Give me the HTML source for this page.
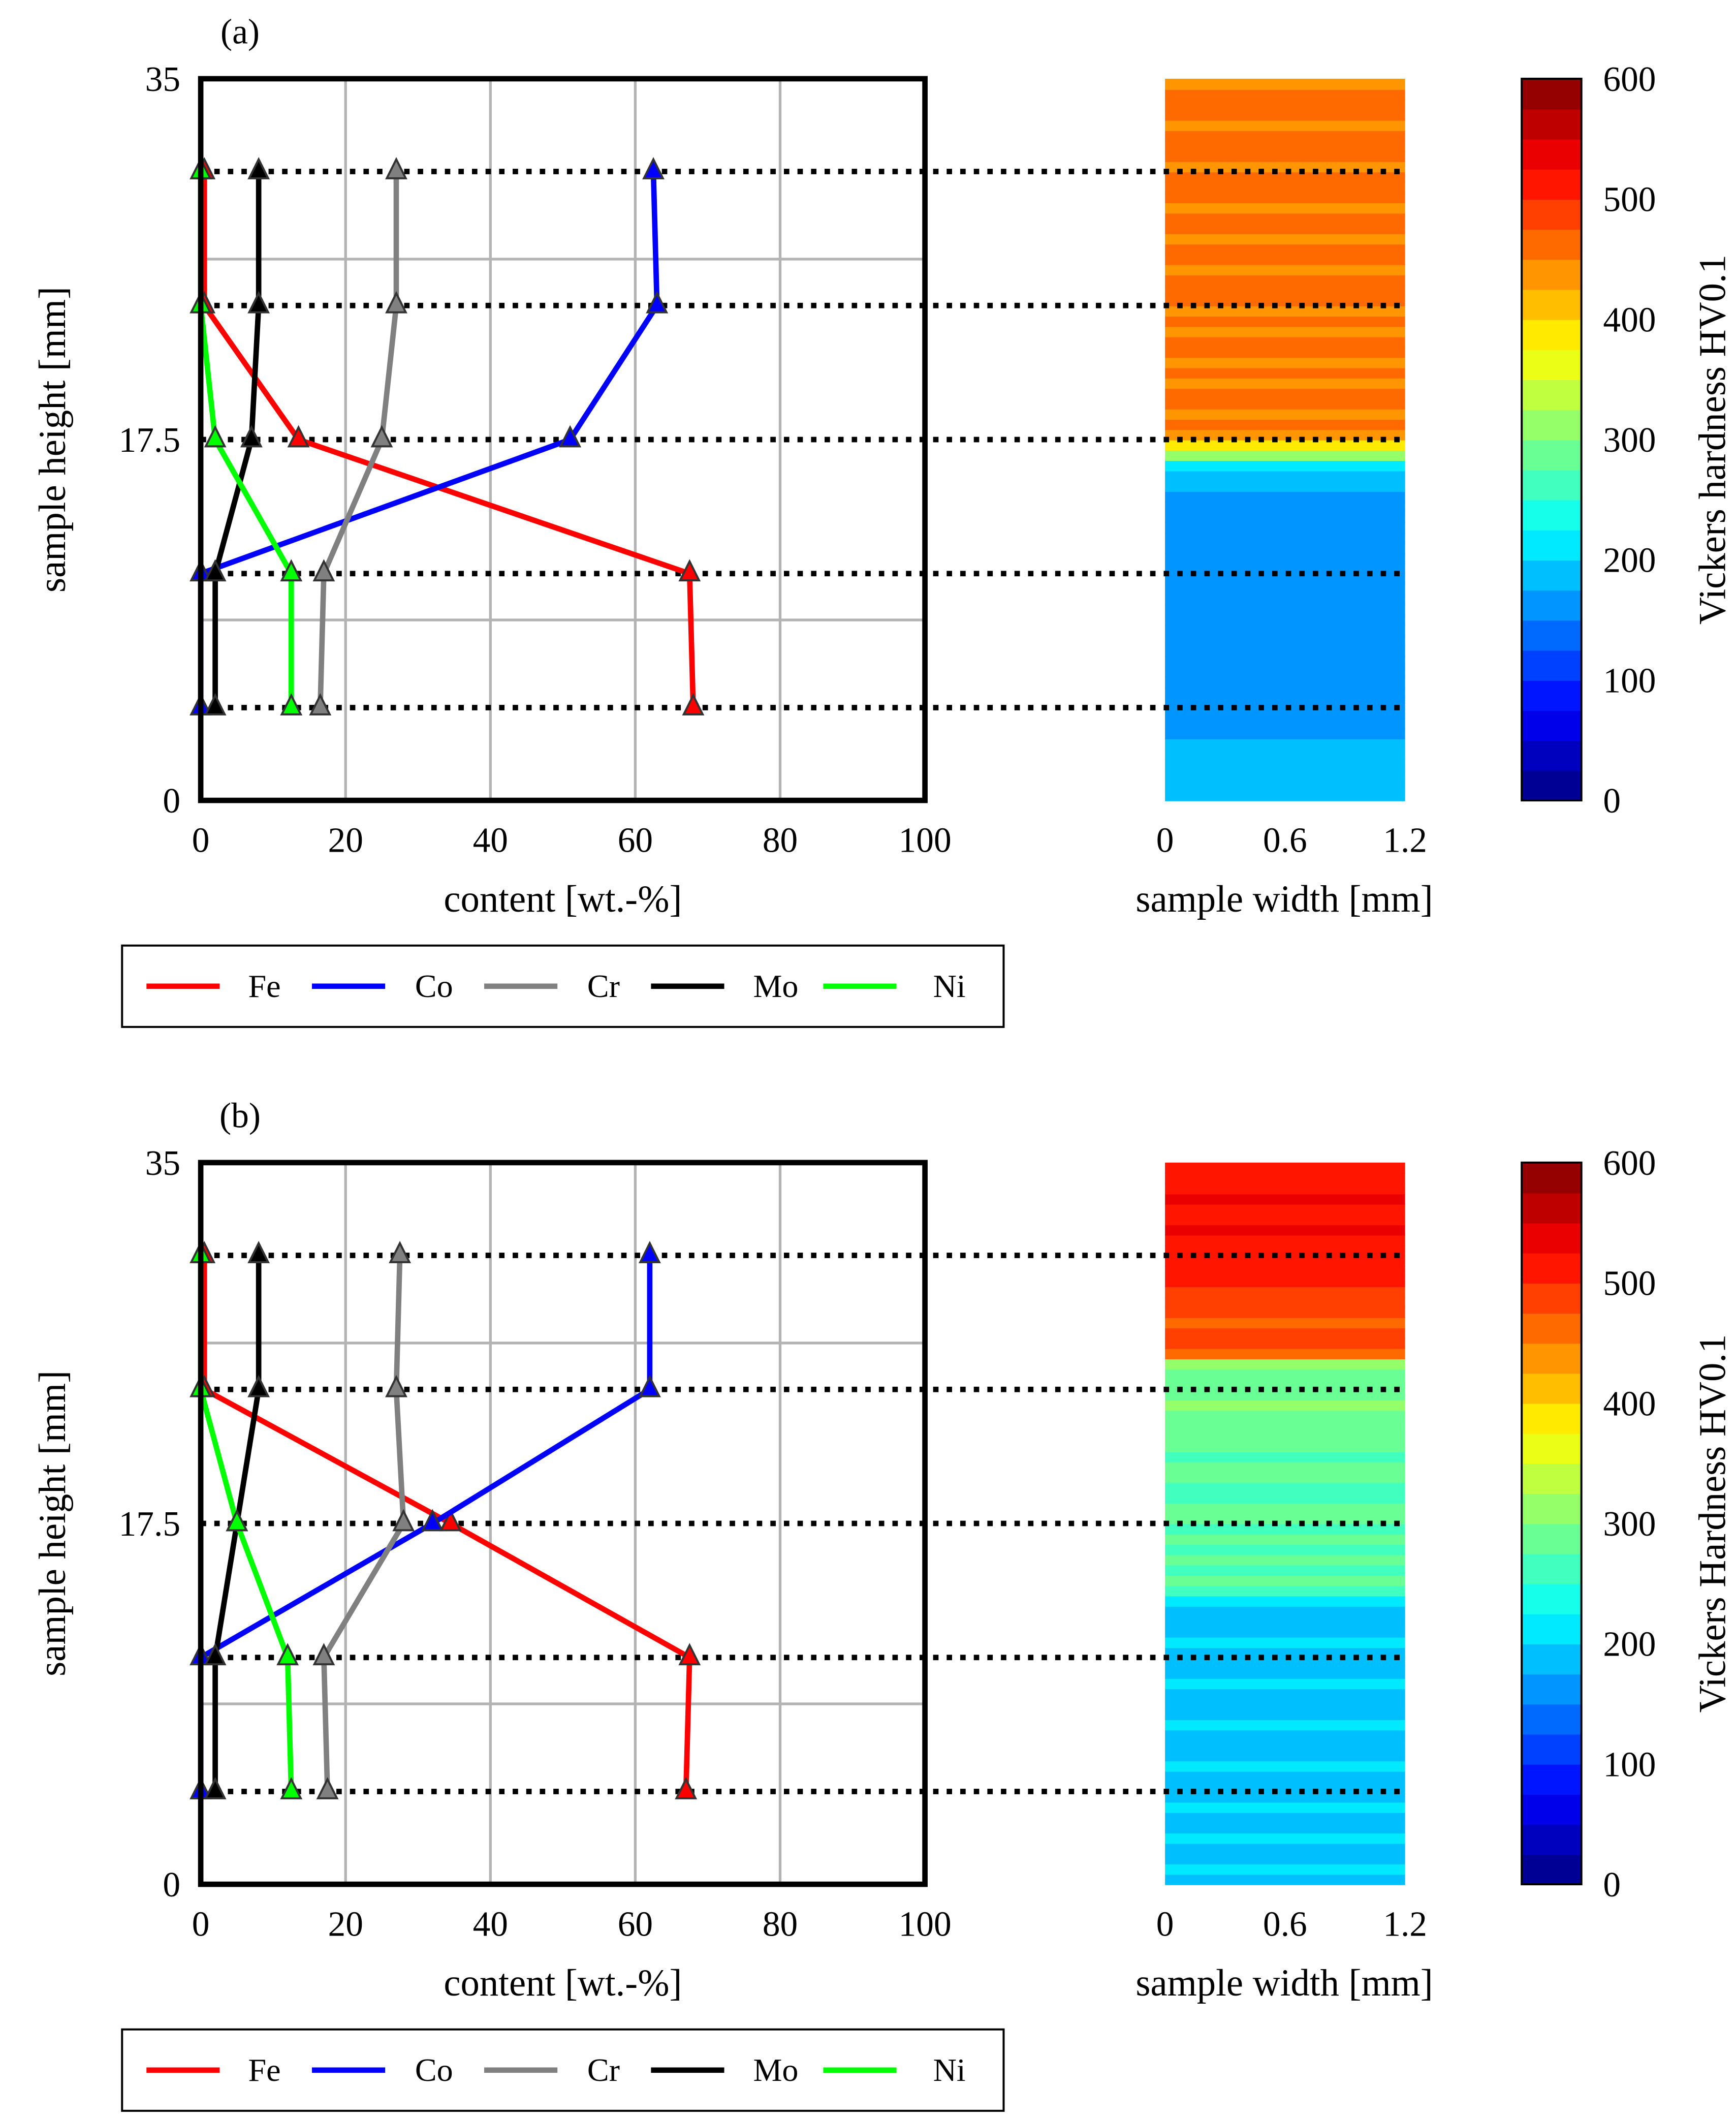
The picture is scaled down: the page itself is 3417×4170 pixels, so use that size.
<!DOCTYPE html>
<html><head><meta charset="utf-8">
<style>
html,body{margin:0;padding:0;background:#fff;}
svg{display:block;}
text{font-family:"Liberation Serif",serif;fill:#000;}
</style></head>
<body>
<svg id="fig" width="3417" height="4170" viewBox="0 0 1280 1562" xmlns="http://www.w3.org/2000/svg"></svg>
<script>
// ---- data ----
const levels = [4.5, 11, 17.5, 24, 30.5];
const seriesNames = ["Fe","Co","Cr","Mo","Ni"];
const seriesColors = ["#ff0000","#0000ff","#808080","#000000","#00ff00"];
const feA = [68, 67.5, 13.5, 0.5, 0.5];
const coA = [0, 0, 51, 63, 62.5];
const crA = [16.5, 17, 25, 27, 27];
const moA = [2, 2, 7, 8, 8];
const niA = [12.5, 12.5, 2, 0, 0];
const feB = [67, 67.5, 34.5, 0.5, 0.5];
const coB = [0, 0, 32, 62, 62];
const crB = [17.5, 17, 28, 27, 27.5];
const moB = [2, 2, 5, 8, 8];
const niB = [12.5, 12, 5, 0, 0];
const xTicks = [0, 20, 40, 60, 80, 100];
const yTicks = [0, 17.5, 35];
const cbTicks = [0, 100, 200, 300, 400, 500, 600];
const wTicks = [0, 0.6, 1.2];
// hardness profile rows, height 0..35 in 0.5 mm steps (bottom to top)
const hardA = [190,185,180,178,180,178,172,170,168,170,165,168,170,165,168,170,166,170,172,168,165,170,168,170,165,168,170,172,168,170,175,180,200,300,380,
  445,455,440,460,450,445,465,440,450,455,445,460,440,455,465,450,445,455,450,440,465,450,445,455,450,465,445,450,455,450,445,450,460,450,440];
const hardB = [195,200,190,195,200,190,195,200,195,190,195,200,195,190,195,200,195,190,195,200,195,190,195,200,195,190,195,200,270,275,268,280,272,275,270,
  280,275,270,272,280,275,270,278,285,290,295,300,295,290,295,300,470,480,475,470,485,480,490,505,515,505,520,510,525,515,510,525,510,520,515];

const svg = document.getElementById('fig');
const NS = "http://www.w3.org/2000/svg";
function mk(tag, attrs, parent){ const e=document.createElementNS(NS,tag); for(const k in attrs) e.setAttribute(k,attrs[k]); (parent||svg).appendChild(e); return e; }
function txt(s,x,y,size,anchor,parent){ const t=mk('text',{x:x,y:y,'font-size':size,'text-anchor':anchor||'middle'},parent); t.textContent=s; return t; }

function jet(v){ // v in 0..1
  const c=x=>Math.max(0,Math.min(1,x));
  const r=c(1.5-Math.abs(4*v-3)), g=c(1.5-Math.abs(4*v-2)), b=c(1.5-Math.abs(4*v-1));
  return `rgb(${Math.round(r*255)},${Math.round(g*255)},${Math.round(b*255)})`;
}
function band(h){ const n=24; const k=Math.min(n-1,Math.floor(h/600*n)); return jet((k+0.5)/n); }

function panel(oy, label, data, hard, cbTitle, tag){
  const g = mk('g',{});  
  const x0=148,x1=682,yTop=58+oy,yBot=590+oy;
  const sx=v=>x0+(x1-x0)*v/100;
  const sy=v=>yBot-(yBot-yTop)*v/35;
  const lab=txt(label,177,32+oy,26,'middle',g);  
  for(const t of [20,40,60,80]){ const l=mk('line',{x1:sx(t),x2:sx(t),y1:yTop,y2:yBot,stroke:'#b3b3b3','stroke-width':2},g);   }
  for(const t of [8.75,26.25]){ const l=mk('line',{x1:x0,x2:x1,y1:sy(t),y2:sy(t),stroke:'#b3b3b3','stroke-width':2},g);   }
  const hx0=859,hx1=1036;
  const hm=mk('g',{},g);  
  for(let i=0;i<hard.length;i++){
    const yb=sy(i*0.5), yt=sy((i+1)*0.5);
    const r=mk('rect',{x:hx0,y:yt,width:hx1-hx0,height:yb-yt+0.6,fill:band(hard[i])},hm);
     
  }
  for(const lv of levels){ const l=mk('line',{x1:x0,x2:hx1,y1:sy(lv),y2:sy(lv),stroke:'#000','stroke-width':4,'stroke-dasharray':'4 6'},g);   }
  data.forEach((vals,si)=>{
    const pts=vals.map((v,i)=>sx(v)+','+sy(levels[i])).join(' ');
    const pl=mk('polyline',{points:pts,fill:'none',stroke:seriesColors[si],'stroke-width':4,'stroke-linejoin':'round'},g);
     
    vals.forEach((v,i)=>{ const cx=sx(v),cy=sy(levels[i]);
      const m=mk('polygon',{points:`${cx},${cy-9} ${cx-7},${cy+5} ${cx+7},${cy+5}`,fill:seriesColors[si],stroke:'#333','stroke-width':1.5},g);
        });
  });
  const fr=mk('rect',{x:x0,y:yTop,width:x1-x0,height:yBot-yTop,fill:'none',stroke:'#000','stroke-width':4},g);  
  for(const t of xTicks){ const tl=txt(String(t),sx(t),628+oy,26,'middle',g);   }
  for(const t of yTicks){ const tl=txt(String(t),133,sy(t)+9,26,'end',g);   }
  const xl=txt('content [wt.-%]',415,672+oy,28,'middle',g);  
  const yl=txt('sample height [mm]',0,0,28,'middle',g); yl.setAttribute('transform',`translate(48,${324+oy}) rotate(-90)`);  
  for(const t of wTicks){ const tl=txt(String(t),hx0+(hx1-hx0)*t/1.2,628+oy,26,'middle',g);   }
  const wl=txt('sample width [mm]',947,672+oy,28,'middle',g);  
  const cb=mk('g',{},g);  
  const cx0=1122,cw=44;
  for(let k=0;k<24;k++){ const y1=yBot-(yBot-yTop)*(k+1)/24; const r=mk('rect',{x:cx0,y:y1,width:cw,height:(yBot-yTop)/24+0.5,fill:jet((k+0.5)/24)},cb);   }
  mk('rect',{x:cx0,y:yTop,width:cw,height:yBot-yTop,fill:'none',stroke:'#000','stroke-width':1.5},cb);
  for(const t of cbTicks){ const tl=txt(String(t),1182,yBot-(yBot-yTop)*t/600+9,26,'start',cb);   }
  const ct=txt(cbTitle,0,0,28,'middle',cb); ct.setAttribute('transform',`translate(1272,${324+oy}) rotate(-90)`);  
  const lg=mk('g',{},g);  
  mk('rect',{x:90,y:697+oy,width:650,height:60,fill:'#fff',stroke:'#000','stroke-width':1.5},lg);
  const lx=[108,230,357,480,607], tx=[195,320,445,572,700];
  seriesNames.forEach((n,i)=>{
    const e=mk('g',{},lg);  
    mk('line',{x1:lx[i],x2:lx[i]+54,y1:727+oy,y2:727+oy,stroke:seriesColors[i],'stroke-width':4},e);
    txt(n,tx[i],735+oy,24,'middle',e);
  });
}
panel(0,'(a)',[feA,coA,crA,moA,niA],hardA,'Vickers hardness HV0.1','a');
panel(799,'(b)',[feB,coB,crB,moB,niB],hardB,'Vickers Hardness HV0.1','b');
</script>
</body></html>
